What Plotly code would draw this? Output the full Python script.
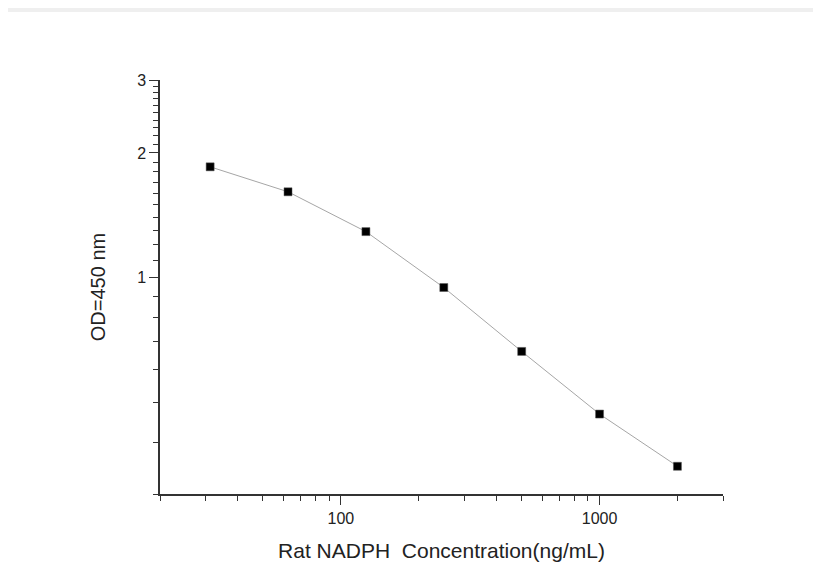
import plotly.graph_objects as go

# standard curve
conc = [31.25, 62.5, 125, 250, 500, 1000, 2000]
od = [1.851, 1.611, 1.291, 0.946, 0.663, 0.468, 0.350]

x_major = [100, 1000]
x_minor = [20, 30, 40, 50, 60, 70, 80, 90, 200, 300, 400, 500, 600, 700, 800, 900, 2000, 3000]
y_major = [1, 2, 3]
y_minor = [0.3, 0.4, 0.5, 0.6, 0.7, 0.8, 0.9,
           1.1, 1.2, 1.3, 1.4, 1.5, 1.6, 1.7, 1.8, 1.9,
           2.1, 2.2, 2.3, 2.4, 2.5, 2.6, 2.7, 2.8, 2.9]

# page body has an 8px margin, so the figure sits at (8, 8)
W, H = 813, 568
ml, mr, mt, mb = 152, 98, 72, 82
pw, ph = W - ml - mr, H - mt - mb

fig = go.Figure()
fig.add_trace(go.Scatter(
    x=conc, y=od, mode="lines+markers",
    line=dict(color="#a6a6a6", width=1),
    marker=dict(symbol="square", size=8, color="black",
                line=dict(color="#555", width=0.5)),
    showlegend=False,
))

font_name = "Liberation Sans, Arial, sans-serif"
axis_font = dict(family=font_name, size=16, color="#222")

fig.update_xaxes(
    type="log", range=[1.30103, 3.47712],
    showgrid=False, zeroline=False,
    showline=True, linecolor="#333", linewidth=1.5,
    ticks="outside", ticklen=9, tickwidth=1.2, tickcolor="#333",
    tickmode="array", tickvals=x_major, ticktext=["100", "1000"],
    tickfont=axis_font,
    minor=dict(tickmode="array", tickvals=x_minor, ticks="outside",
               ticklen=5, tickwidth=1.2, tickcolor="#333", showgrid=False),
    title=dict(text="Rat NADPH  Concentration(ng/mL)", standoff=17,
               font=dict(family=font_name, size=21, color="#222")),
)
fig.update_yaxes(
    type="log", range=[-0.52288, 0.47712],
    showgrid=False, zeroline=False,
    showline=True, linecolor="#333", linewidth=1.5,
    ticks="outside", ticklen=9, tickwidth=1.2, tickcolor="#333",
    tickmode="array", tickvals=y_major, ticktext=["1", "2", "3"],
    tickfont=axis_font,
    minor=dict(tickmode="array", tickvals=y_minor, ticks="outside",
               ticklen=5, tickwidth=1.2, tickcolor="#333", showgrid=False),
    title=dict(text="OD=450 nm", standoff=26,
               font=dict(family=font_name, size=20, color="#222")),
)

# gray page with a white sheet offset from top-left
fig.add_shape(type="rect", xref="paper", yref="paper", layer="below",
              x0=-ml / pw, x1=(W - ml) / pw,
              y0=-mb / ph, y1=1 + (mt - 4) / ph,
              fillcolor="white", line=dict(width=0))

fig.update_layout(
    width=W, height=H,
    margin=dict(l=ml, r=mr, t=mt, b=mb),
    paper_bgcolor="#efefef", plot_bgcolor="white",
)

fig.write_html("out.html")
